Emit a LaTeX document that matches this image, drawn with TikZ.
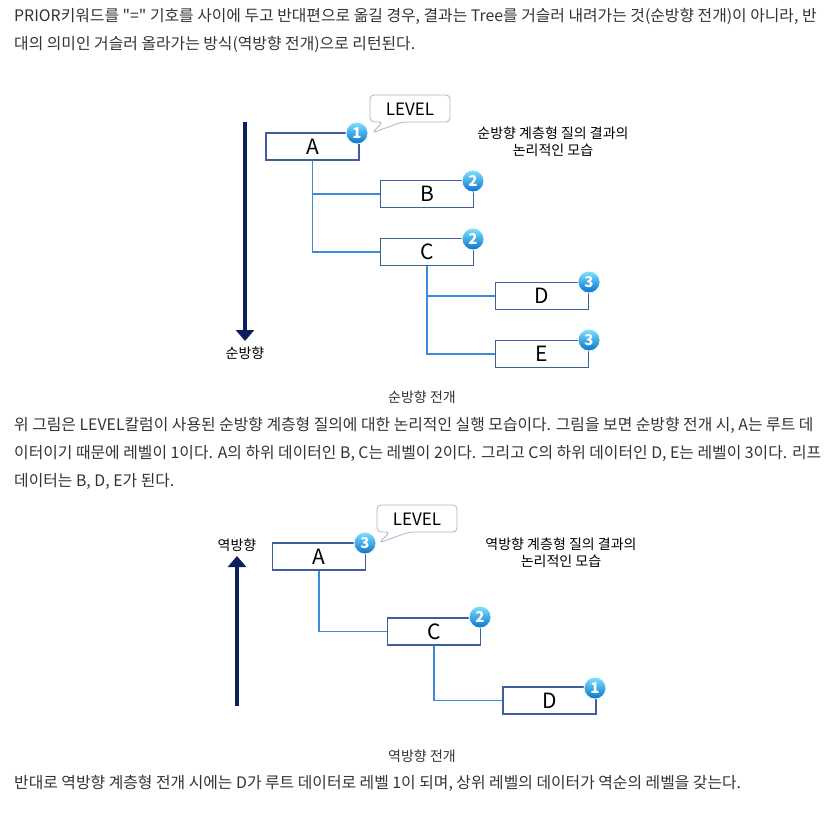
\documentclass[tikz,border=0pt]{standalone}
\usepackage{fontspec}
\setmainfont{Noto Sans CJK KR}[Ligatures=TeXOff]
\usetikzlibrary{arrows.meta}
\definecolor{bodytxt}{HTML}{333333}
\definecolor{boxline}{HTML}{3F5E9E}
\definecolor{conn}{HTML}{3C8DD8}
\definecolor{navy}{HTML}{0B1F5E}
\definecolor{callline}{HTML}{A9B4C8}
\definecolor{badgetop}{HTML}{7FE3FF}
\definecolor{badgebot}{HTML}{0673CC}
\tikzset{
  para/.style={anchor=west, inner sep=0pt, text=bodytxt, font=\fontsize{15.85}{18}\selectfont},
  captext/.style={inner sep=0pt, text=bodytxt, font=\fontsize{14}{17}\selectfont},
  tbox/.style={draw=boxline, line width=1.2pt, minimum width=93pt, minimum height=27pt, inner sep=0pt, font=\fontsize{21}{22}\selectfont},
  badge/.style={circle, minimum size=22pt, inner sep=0pt, draw=white, line width=0.8pt, top color=badgetop, bottom color=badgebot, text=white, font=\bfseries\fontsize{15}{15}\selectfont},
  conline/.style={draw=conn, line width=1.3pt},
  dirarrow/.style={draw=navy, line width=4pt, -{Triangle[width=18pt,length=11pt]}},
  desc/.style={inner sep=0pt, align=center, font=\fontsize{14}{17}\selectfont},
  dirlabel/.style={inner sep=0pt, font=\fontsize{14}{17}\selectfont},
  callout/.style={draw=callline, line width=0.8pt, fill=white, rounded corners=4pt},
  calltext/.style={inner sep=0pt, font=\fontsize{17}{20}\selectfont}
}
\begin{document}
\begin{tikzpicture}[x=1pt,y=-1pt]
\useasboundingbox (0,0) rectangle (834,816);
% paragraphs
\node[para] (p1) at (14,16) {PRIOR키워드를 "=" 기호를 사이에 두고 반대편으로 옮길 경우, 결과는 Tree를 거슬러 내려가는 것(순방향 전개)이 아니라, 반};
\node[para] (p2) at (14,44) {대의 의미인 거슬러 올라가는 방식(역방향 전개)으로 리턴된다.};

% ---- top diagram ----
\coordinate (dtop) at (245,122);
\coordinate (dbot) at (245,341);
\draw[dirarrow] (dtop) -- (dbot);
\node[dirlabel] (sdir) at (245,353) {순방향};

\node[tbox] (A) at (312.5,146.5) {A};
\node[tbox] (B) at (427,194) {B};
\node[tbox] (C) at (427,252) {C};
\node[tbox] (D) at (542,296) {D};
\node[tbox] (E) at (542,354) {E};

\draw[conline] (A.south) |- (B.west);
\draw[conline] (A.south) |- (C.west);
\draw[conline] (C.south) |- (D.west);
\draw[conline] (C.south) |- (E.west);

\draw[callout] (370,95) -- (450,95) -- (450,122) -- (402,122) -- (372,133) -- (383,122) -- (370,122) -- cycle;
\node[calltext] (lv1) at (410,109) {LEVEL};

\node[badge] (bA) at (357,133) {1};
\node[badge] (bB) at (473,181) {2};
\node[badge] (bC) at (473,239) {2};
\node[badge] (bD) at (589,282) {3};
\node[badge] (bE) at (589,340) {3};

\node[desc] (d1) at (553,141.5) {순방향 계층형 질의 결과의\\논리적인 모습};

\node[captext] (c1) at (422,397) {순방향 전개};

\node[para] (p3) at (14,425) {위 그림은 LEVEL칼럼이 사용된 순방향 계층형 질의에 대한 논리적인 실행 모습이다. 그림을 보면 순방향 전개 시, A는 루트 데};
\node[para] (p4) at (14,453) {이터이기 때문에 레벨이 1이다. A의 하위 데이터인 B, C는 레벨이 2이다. 그리고 C의 하위 데이터인 D, E는 레벨이 3이다. 리프};
\node[para] (p5) at (14,481) {데이터는 B, D, E가 된다.};

% ---- bottom diagram ----
\coordinate (utop) at (237,556);
\coordinate (ubot) at (237,706);
\draw[dirarrow] (ubot) -- (utop);
\node[dirlabel] (rdir) at (237,545) {역방향};

\node[tbox] (A2) at (319,556.5) {A};
\node[tbox] (C2) at (434,631.5) {C};
\node[tbox] (D2) at (549.5,700.5) {D};

\draw[conline] (A2.south) |- (C2.west);
\draw[conline] (C2.south) |- (D2.west);

\draw[callout] (377,505) -- (457,505) -- (457,532) -- (409,532) -- (379,543) -- (390,532) -- (377,532) -- cycle;
\node[calltext] (lv2) at (417,519) {LEVEL};

\node[badge] (bA2) at (365,543) {3};
\node[badge] (bC2) at (480,617) {2};
\node[badge] (bD2) at (595,688) {1};

\node[desc] (d2) at (561,552.5) {역방향 계층형 질의 결과의\\논리적인 모습};

\node[captext] (c2) at (422,756) {역방향 전개};

\node[para] (p6) at (14,783) {반대로 역방향 계층형 전개 시에는 D가 루트 데이터로 레벨 1이 되며, 상위 레벨의 데이터가 역순의 레벨을 갖는다.};
\end{tikzpicture}
\end{document}
